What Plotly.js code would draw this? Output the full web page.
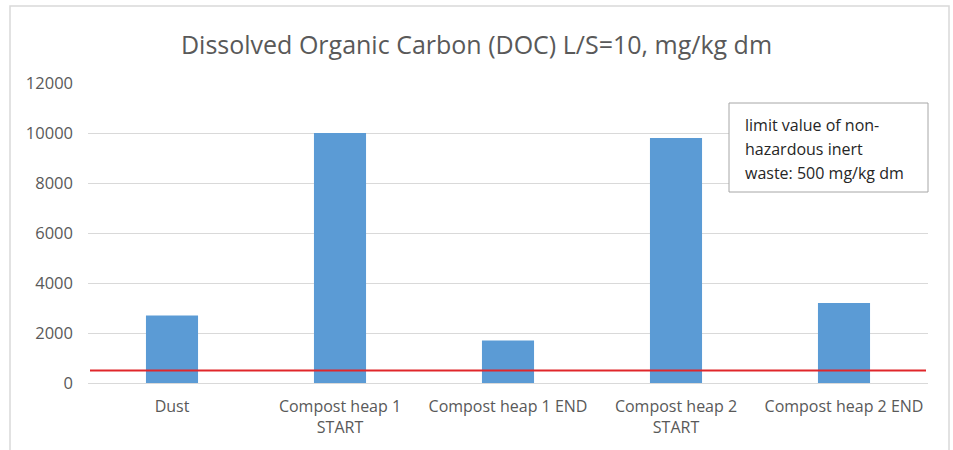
<!DOCTYPE html>
<html>
<head>
<meta charset="utf-8">
<script src="https://cdn.plot.ly/plotly-3.0.1.min.js"></script>
<style>
html,body{margin:0;padding:0;background:#fff;}
#chart{width:953px;height:450px;}
</style>
</head>
<body>
<div id="chart"></div>
<script>
const categories = ["Dust", "Compost heap 1<br>START", "Compost heap 1 END", "Compost heap 2<br>START", "Compost heap 2 END"];
const docValues = [2700, 10000, 1700, 9800, 3200];
const limitValue = 500;
const yTickVals = [0, 2000, 4000, 6000, 8000, 10000, 12000];
const titleText = "Dissolved Organic Carbon (DOC) L/S=10, mg/kg dm";
const noteLines = ["limit value of non-", "hazardous inert", "waste: 500 mg/kg dm"];

const W = 953, H = 450;
const m = {l: 88, r: 25, t: 83, b: 67};
const pw = W - m.l - m.r, ph = H - m.t - m.b;
const px = v => (v - m.l) / pw;
const py = v => (H - m.b - v) / ph;

const font = "Open Sans, Noto Sans, sans-serif";

const data = [{
  type: "bar",
  x: categories,
  y: docValues,
  marker: {color: "#5b9bd5"},
  hoverinfo: "x+y"
}];

const noteAnnotations = noteLines.map((t, i) => ({
  xref: "paper", yref: "paper",
  x: px(743), y: py(125 + 24 * i),
  xanchor: "left", yanchor: "middle",
  text: t, showarrow: false,
  font: {family: font, size: 16, color: "#262626"}
}));

const layout = {
  width: W, height: H,
  margin: m,
  paper_bgcolor: "#fff",
  plot_bgcolor: "#fff",
  showlegend: false,
  bargap: 0.69,
  title: {
    text: titleText,
    font: {family: font, size: 25, color: "#595959"},
    x: 0.5, xanchor: "center",
    y: 1 - 45 / H, yanchor: "middle"
  },
  xaxis: {
    tickfont: {family: font, size: 16, color: "#595959"},
    showgrid: false,
    showline: false,
    ticks: "",
    ticklabelstandoff: 12,
    fixedrange: true
  },
  yaxis: {
    range: [0, 12000],
    tickvals: yTickVals,
    ticktext: yTickVals.map(String),
    tickfont: {family: font, size: 16.5, color: "#595959"},
    gridcolor: "#d9d9d9",
    gridwidth: 1,
    zeroline: true,
    zerolinecolor: "#d9d9d9",
    zerolinewidth: 1,
    showline: false,
    ticks: "",
    ticklabelstandoff: 14,
    fixedrange: true
  },
  shapes: [
    {
      type: "rect", xref: "paper", yref: "paper",
      x0: px(10), x1: px(949), y0: py(460), y1: py(6),
      line: {color: "#d9d9d9", width: 1.5}, layer: "below"
    },
    {
      type: "line", xref: "paper", yref: "y",
      x0: px(90), x1: px(926), y0: limitValue, y1: limitValue,
      line: {color: "#e0262b", width: 2}
    },
    {
      type: "rect", xref: "paper", yref: "paper",
      x0: px(729), x1: px(928), y0: py(192), y1: py(103),
      fillcolor: "#fff",
      line: {color: "#a6a6a6", width: 1}, layer: "above"
    }
  ],
  annotations: noteAnnotations
};

Plotly.newPlot("chart", data, layout, {displayModeBar: false, staticPlot: true});
</script>
</body>
</html>
